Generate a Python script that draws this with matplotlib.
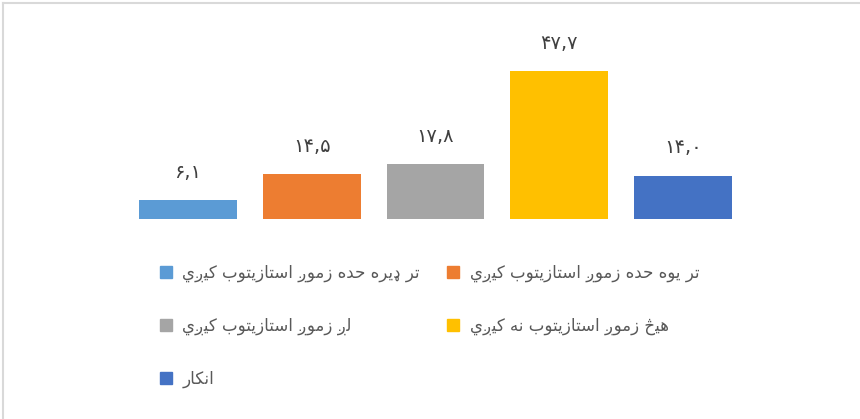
import matplotlib
matplotlib.use("Agg")
import matplotlib.pyplot as plt
from matplotlib.lines import Line2D

categories = [
    "تر ډیره حده زموږ استازیتوب کیږي",
    "تر یوه حده زموږ استازیتوب کیږي",
    "لږ زموږ استازیتوب کیږي",
    "هیڅ زموږ استازیتوب نه کیږي",
    "انکار",
]
values = [6.1, 14.5, 17.8, 47.7, 14.0]
value_labels = ["۶,۱", "۱۴,۵", "۱۷,۸", "۴۷,۷", "۱۴,۰"]
colors = ["#5B9BD5", "#ED7D31", "#A5A5A5", "#FFC000", "#4472C4"]

# --- minimal Arabic shaping (presentation forms) + visual reordering ---
FORMS = {  # iso, fin, ini, med
    "ا": ("\uFE8D", "\uFE8E", None, None),
    "ب": ("\uFE8F", "\uFE90", "\uFE91", "\uFE92"),
    "ت": ("\uFE95", "\uFE96", "\uFE97", "\uFE98"),
    "ح": ("\uFEA1", "\uFEA2", "\uFEA3", "\uFEA4"),
    "د": ("\uFEA9", "\uFEAA", None, None),
    "ر": ("\uFEAD", "\uFEAE", None, None),
    "ز": ("\uFEAF", "\uFEB0", None, None),
    "س": ("\uFEB1", "\uFEB2", "\uFEB3", "\uFEB4"),
    "ل": ("\uFEDD", "\uFEDE", "\uFEDF", "\uFEE0"),
    "م": ("\uFEE1", "\uFEE2", "\uFEE3", "\uFEE4"),
    "ن": ("\uFEE5", "\uFEE6", "\uFEE7", "\uFEE8"),
    "ه": ("\uFEE9", "\uFEEA", "\uFEEB", "\uFEEC"),
    "و": ("\uFEED", "\uFEEE", None, None),
    "ي": ("\uFEF1", "\uFEF2", "\uFEF3", "\uFEF4"),
    "ی": ("\uFBFC", "\uFBFD", "\uFBFE", "\uFBFF"),
    "ک": ("\uFB8E", "\uFB8F", "\uFB90", "\uFB91"),
    "ډ": ("ډ", "ډ", None, None),
    "ږ": ("ږ", "ږ", None, None),
    "څ": ("څ", "څ", "څ", "څ"),
}


def joins_left(ch):
    f = FORMS.get(ch)
    return f is not None and f[2] is not None


def joins_right(ch):
    return ch in FORMS


def shape_word(w):
    out = []
    for i, ch in enumerate(w):
        if ch not in FORMS:
            out.append(ch)
            continue
        prev = w[i - 1] if i > 0 else None
        nxt = w[i + 1] if i + 1 < len(w) else None
        cp = prev is not None and joins_left(prev)
        cn = nxt is not None and joins_left(ch) and joins_right(nxt)
        iso, fin, ini, med = FORMS[ch]
        if cp and cn:
            out.append(med)
        elif cp:
            out.append(fin)
        elif cn:
            out.append(ini)
        else:
            out.append(iso)
    return "".join(out)


def shape(s):
    return " ".join(shape_word(w)[::-1] for w in s.split(" ")[::-1])


plt.rcParams["font.family"] = ["DejaVu Sans"]

fig = plt.figure(figsize=(8.6, 4.19), dpi=100)
W, H = 860, 419
ax = fig.add_axes([126 / W, (H - 219) / H, (745 - 126) / W, 186 / H])
x = list(range(len(values)))
bars = ax.bar(x, values, width=0.79, color=colors)
ax.set_xlim(-0.5, len(values) - 0.5)
ax.set_ylim(0, 60)
ax.axis("off")

for xi, v, lab in zip(x, values, value_labels):
    ax.annotate(lab, (xi, v), xytext=(0, 20), textcoords="offset points",
                ha="center", va="center", fontsize=14, color="#404040")

handles = [Line2D([], [], marker="s", linestyle="none", markersize=9,
                  color=c) for c in colors]
labels = [shape(c) for c in categories]
# legend fills row by row (two columns); matplotlib fills column-major
order = [0, 2, 4, 1, 3]
leg = fig.legend([handles[i] for i in order], [labels[i] for i in order],
                 ncol=2, loc="upper left",
                 bbox_to_anchor=(144 / W, 1 - 249 / H), frameon=False,
                 fontsize=12, labelcolor="#595959", handlelength=0.8,
                 handletextpad=0.6, columnspacing=1.6, labelspacing=2.08)

# chart border (top and left visible)
fig.add_artist(Line2D([3 / W, 1], [1 - 3 / H, 1 - 3 / H], color="#D9D9D9", lw=1.5))
fig.add_artist(Line2D([3 / W, 3 / W], [0, 1 - 3 / H], color="#D9D9D9", lw=1.5))

fig.savefig("out.png", dpi=100, facecolor="white")
